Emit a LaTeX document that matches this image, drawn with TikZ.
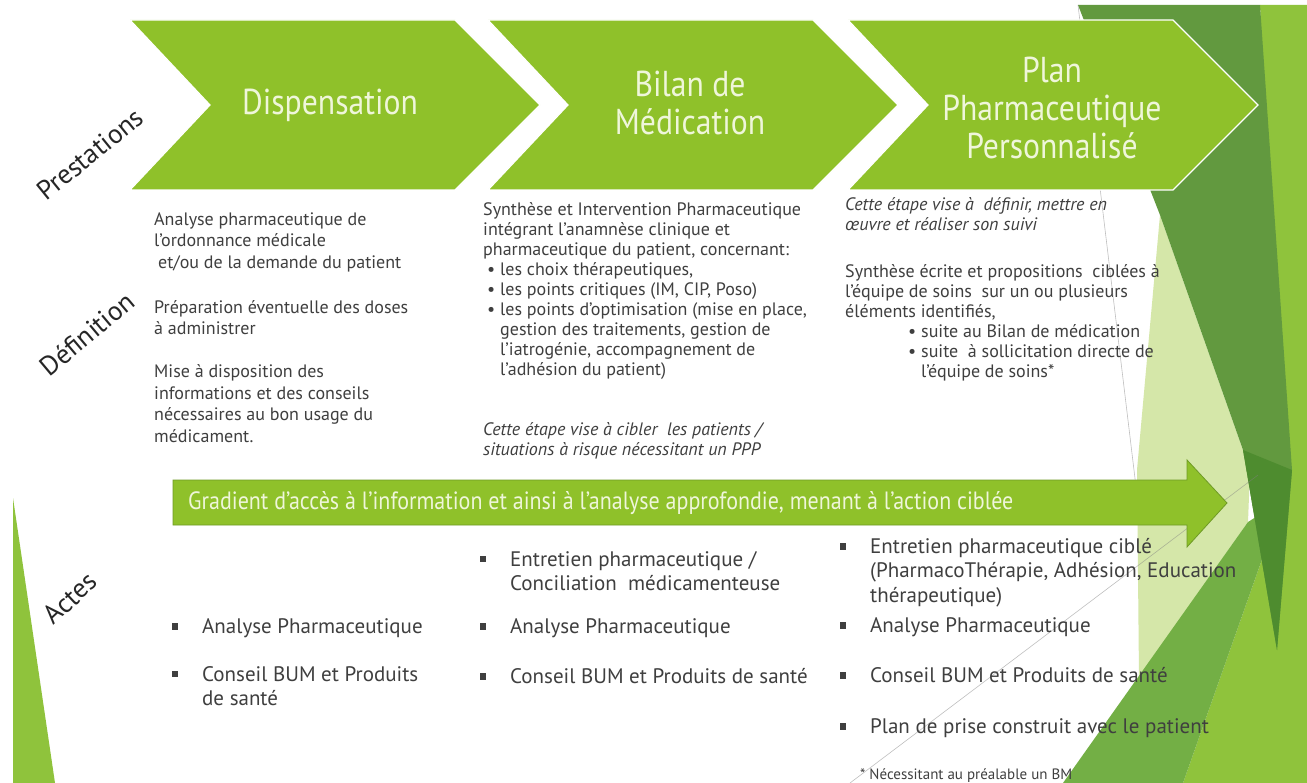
\documentclass[tikz,border=0pt]{standalone}
\usepackage{fontspec}
\setmainfont{PT Sans}
\newfontfamily\narrowfont[FakeStretch=0.88]{PT Sans}

\definecolor{chevgreen}{HTML}{8FC12A}
\definecolor{arrowedge}{HTML}{6F9B26}
\definecolor{creamtext}{HTML}{EFF6DA}
\definecolor{bodygray}{HTML}{3F3F3F}
\definecolor{facetdark}{HTML}{62993F}
\definecolor{facetdeep}{HTML}{4E8C2F}
\definecolor{facetpale}{HTML}{D5E7A9}
\definecolor{facetmid}{HTML}{73AF45}
\definecolor{facetbright}{HTML}{8FC33C}

\newcommand{\dotitem}{\makebox[17pt][l]{\hspace{4pt}•}}
\newcommand{\dotindent}{\hspace*{17pt}}
\newcommand{\sqitem}{\makebox[30pt][l]{\rule[0.18em]{0.28em}{0.3em}}}
\newcommand{\sqindent}{\hspace*{30pt}}

\tikzset{
  chevron/.style={fill=chevgreen, draw=white, line width=1.2pt},
  headtext/.style={text=creamtext, align=center, font=\narrowfont\fontsize{36}{38}\selectfont},
  sidelabel/.style={text=black!85, font=\fontsize{27}{29}\selectfont},
  deftext/.style={text=bodygray, align=left, anchor=north west, inner sep=0pt,
    execute at begin node=\strut},
  actetext/.style={text=bodygray, align=left, anchor=north west, inner sep=0pt,
    font=\fontsize{21}{24.5}\selectfont, execute at begin node=\strut},
  notetext/.style={text=bodygray, anchor=base west, inner sep=0pt, font=\fontsize{15}{17}\selectfont},
  gradarrow/.style={fill=chevgreen, draw=arrowedge, line width=0.8pt},
  gradtext/.style={text=creamtext, anchor=west, inner sep=0pt, font=\narrowfont\fontsize{25}{27}\selectfont},
  facetline/.style={draw=gray, line width=0.6pt, opacity=0.5}
}

\begin{document}
\begin{tikzpicture}[x=1pt, y=-1pt]
  \useasboundingbox (0,0) rectangle (1307,783);
  \fill[white] (0,0) rectangle (1307,783);

  % Background facets
  \fill[facetbright] (1260,5) -- (1307,5) -- (1307,783) -- (1183,783) -- (1283,500) -- cycle;
  \fill[facetpale] (1160,215) -- (1250,470) -- (1248,522) -- (1139,678) -- (1137,470) -- cycle;
  \fill[facetmid] (1248,522) -- (1283,500) -- (1183,783) -- (1063,783) -- cycle;
  \fill[facetdark] (1078,5) -- (1260,5) -- (1292,470) -- (1277,650) -- (1243,450) -- (1160,215) -- cycle;
  \fill[facetdeep] (1243,450) -- (1292,470) -- (1277,650) -- cycle;
  \draw[facetline] (1078,5) -- (1140,520);
  \draw[facetline] (850,783) -- (1258,475);
  \fill[facetbright] (13,498) -- (55,783) -- (13,783) -- cycle;

  % Draw the chevrons
  \draw[chevron] (130,20) -- (455,20) -- (540,105) -- (455,190) -- (130,190) -- (210,105) -- cycle;
  \draw[chevron] (488,20) -- (813,20) -- (898,105) -- (813,190) -- (488,190) -- (568,105) -- cycle;
  \draw[chevron] (848,20) -- (1173,20) -- (1258,105) -- (1173,190) -- (848,190) -- (928,105) -- cycle;

  % Labels inside the chevrons
  \node[headtext] (disp) at (330,105) {Dispensation};
  \node[headtext] (bilan) at (690,103) {Bilan de\\Médication};
  \node[headtext] (ppp) at (1052,108) {Plan\\Pharmaceutique\\Personnalisé};

  % Row labels
  \node[sidelabel, rotate=39] (prest) at (90,154) {Prestations};
  \node[sidelabel, rotate=40] (defin) at (87,334) {Définition};
  \node[sidelabel, rotate=43] (actes) at (70,598) {Actes};

  % Definitions
  \node[deftext, font=\fontsize{18}{21.5}\selectfont] (def1) at (154,212.5) {Analyse pharmaceutique de\\
    l’ordonnance médicale\\
    \hspace*{4pt}et/ou de la demande du patient\\[23.5pt]
    Préparation éventuelle des doses\\
    à administrer\\[21.5pt]
    Mise à disposition des\\
    informations et des conseils\\
    nécessaires au bon usage du\\
    médicament.};
  \node[deftext, font=\fontsize{18}{20}\selectfont] (def2) at (483,202.5) {Synthèse et Intervention Pharmaceutique\\
    intégrant l’anamnèse clinique et\\
    pharmaceutique du patient, concernant:\\
    \dotitem les choix thérapeutiques,\\
    \dotitem les points critiques (IM, CIP, Poso)\\
    \dotitem les points d’optimisation (mise en place,\\
    \dotindent gestion des traitements, gestion de\\
    \dotindent l’iatrogénie, accompagnement de\\
    \dotindent l’adhésion du patient)\\[40pt]
    \textit{Cette étape vise à cibler\ \ les patients /}\\
    \textit{situations à risque nécessitant un PPP}};
  \node[deftext, font=\fontsize{18}{20}\selectfont] (def3) at (845,197.5) {\textit{Cette étape vise à\ \ définir, mettre en}\\
    \textit{œuvre et réaliser son suivi}\\[27pt]
    Synthèse écrite et propositions\ \ ciblées à\\
    l’équipe de soins\ \ sur un ou plusieurs\\
    éléments identifiés,\\
    \hspace*{59pt}\dotitem suite au Bilan de médication\\
    \hspace*{59pt}\dotitem suite\ \ à sollicitation directe de\\
    \hspace*{59pt}\dotindent l’équipe de soins*};

  % Gradient arrow
  \draw[gradarrow] (173,480) -- (1187,480) -- (1187,460) -- (1227,503) -- (1187,547) -- (1187,525) -- (173,525) -- cycle;
  \node[gradtext] (grad) at (188,503) {Gradient d’accès à l’information et ainsi à l’analyse approfondie, menant à l’action ciblée};

  % Actes
  \node[actetext] (ana1) at (172,616) {\sqitem Analyse Pharmaceutique};
  \node[actetext] (cons1) at (172,666) {\sqitem Conseil BUM et Produits\\\sqindent de santé};
  \node[actetext] (entr2) at (480,551) {\sqitem Entretien pharmaceutique /\\\sqindent Conciliation\ \ médicamenteuse};
  \node[actetext] (ana2) at (480,616) {\sqitem Analyse Pharmaceutique};
  \node[actetext] (cons2) at (480,666) {\sqitem Conseil BUM et Produits de santé};
  \node[actetext] (entr3) at (840,538) {\sqitem Entretien pharmaceutique ciblé\\\sqindent (PharmacoThérapie, Adhésion, Education\\\sqindent thérapeutique)};
  \node[actetext] (ana3) at (840,615) {\sqitem Analyse Pharmaceutique};
  \node[actetext] (cons3) at (840,665) {\sqitem Conseil BUM et Produits de santé};
  \node[actetext] (plan3) at (840,716) {\sqitem Plan de prise construit avec le patient};
  \node[notetext] (note) at (860,779) {* Nécessitant au préalable un BM};
\end{tikzpicture}
\end{document}
